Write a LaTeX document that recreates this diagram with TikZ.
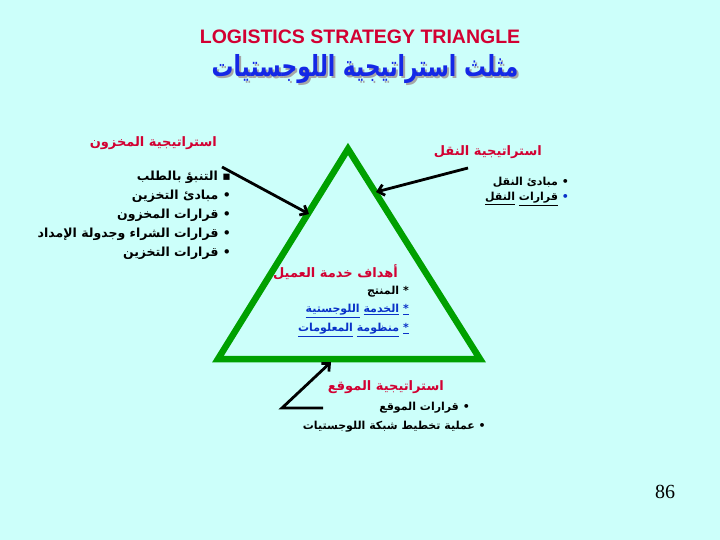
\documentclass[tikz,border=0pt]{standalone}
\usepackage{fontspec}
\setmainfont{Liberation Serif}
\newfontfamily\arab[Script=Arabic]{DejaVu Sans}
\newfontfamily\lat{Liberation Sans}
\TeXXeTstate=1
\usetikzlibrary{arrows.meta}
\definecolor{bg}{RGB}{204,255,250}
\definecolor{tri}{RGB}{0,160,0}
\definecolor{hred}{RGB}{210,0,50}
\definecolor{lblue}{RGB}{10,50,200}
\definecolor{tblue}{RGB}{20,40,230}
\newcommand{\ul}[1]{\underline{\beginR #1\endR}}
\newcommand{\ttltext}{\scalebox{0.75}[1]{\arab\bfseries\fontsize{29}{32}\selectfont\beginR مثلث استراتيجية اللوجستيات\endR}}
\newcommand{\ttl}{\makebox[0pt][l]{\hspace{2pt}\raisebox{-2pt}{\color{gray!70}\ttltext}}{\color{tblue}\ttltext}}
\tikzset{
  tri/.style={draw=tri, line width=6.5pt, line join=miter},
  arr/.style={draw=black, line width=2.8pt, -{Straight Barb[length=6pt,width=11pt]}},
  hdr/.style={font=\arab\bfseries\fontsize{13}{15}\selectfont, text=hred, inner sep=0pt},
  itm/.style={font=\arab\bfseries\fontsize{11}{13}\selectfont, text=black, inner sep=0pt},
  itmL/.style={font=\arab\bfseries\fontsize{12.5}{14}\selectfont, text=black, inner sep=0pt},
}
\begin{document}
\begin{tikzpicture}[x=1pt,y=-1pt]
\fill[bg] (0,0) rectangle (720,540);
\useasboundingbox (0,0) rectangle (720,540);
% titles
\node (t1) at (360,37) {\lat\bfseries\fontsize{19.5}{22}\selectfont\color{hred}LOGISTICS STRATEGY TRIANGLE};
\node (t2) at (365,70) {\ttl};
% triangle
\coordinate (A) at (348,149);
\coordinate (B) at (218,359);
\coordinate (C) at (480,359);
\draw[tri] (A) -- (B) -- (C) -- cycle;
% left block
\node[hdr, anchor=east] (lh) at (217,143) {\beginR استراتيجية المخزون\endR};
\node[itmL, anchor=east] (l1) at (231,177) {\beginR ▪ التنبؤ بالطلب\endR};
\node[itmL, anchor=east] (l2) at (231,196) {\beginR •  مبادئ التخزين\endR};
\node[itmL, anchor=east] (l3) at (231,215) {\beginR •  قرارات المخزون\endR};
\node[itmL, anchor=east] (l4) at (231,234) {\beginR •  قرارات الشراء وجدولة الإمداد\endR};
\node[itmL, anchor=east] (l5) at (231,253) {\beginR •  قرارات التخزين\endR};
% right block
\node[hdr, anchor=east] (rh) at (542,152) {\beginR استراتيجية النقل\endR};
\node[itm, anchor=east] (r1) at (569,182) {\beginR •  مبادئ النقل\endR};
\node[itm, anchor=east] (r2) at (569,199) {\beginR •  {\color{lblue}\ul{قرارات} \ul{النقل}}\endR};
% center block
\node[hdr, anchor=east] (ch) at (398,272) {\beginR أهداف خدمة العميل\endR};
\node[itm, anchor=east] (c1) at (409,292) {\beginR * المنتج\endR};
\node[itm, anchor=east, text=lblue] (c2) at (409,311) {\beginR\ul{*} \ul{الخدمة} \ul{اللوجستية}\endR};
\node[itm, anchor=east, text=lblue] (c3) at (409,330) {\beginR\ul{*} \ul{منظومة} \ul{المعلومات}\endR};
% bottom block
\node[hdr, anchor=east] (bh) at (444,387) {\beginR استراتيجية الموقع\endR};
\node[itm, anchor=east] (b1) at (470,408) {\beginR • قرارات الموقع\endR};
\node[itm, anchor=east] (b2) at (486,427) {\beginR •   عملية تخطيط شبكة اللوجستيات\endR};
% arrows
\coordinate (ls) at (222,167);
\coordinate (lt) at (309,214);
\draw[arr] (ls) -- (lt);
\coordinate (rs) at (468,168);
\coordinate (rt) at (376,192);
\draw[arr] (rs) -- (rt);
\coordinate (bs) at (323,408);
\coordinate (bk) at (282,408);
\coordinate (bt) at (331,362);
\draw[arr] (bs) -- (bk) -- (bt);
% page number
\node (pg) at (665,492) {\fontsize{20}{24}\selectfont 86};
\end{tikzpicture}
\end{document}
